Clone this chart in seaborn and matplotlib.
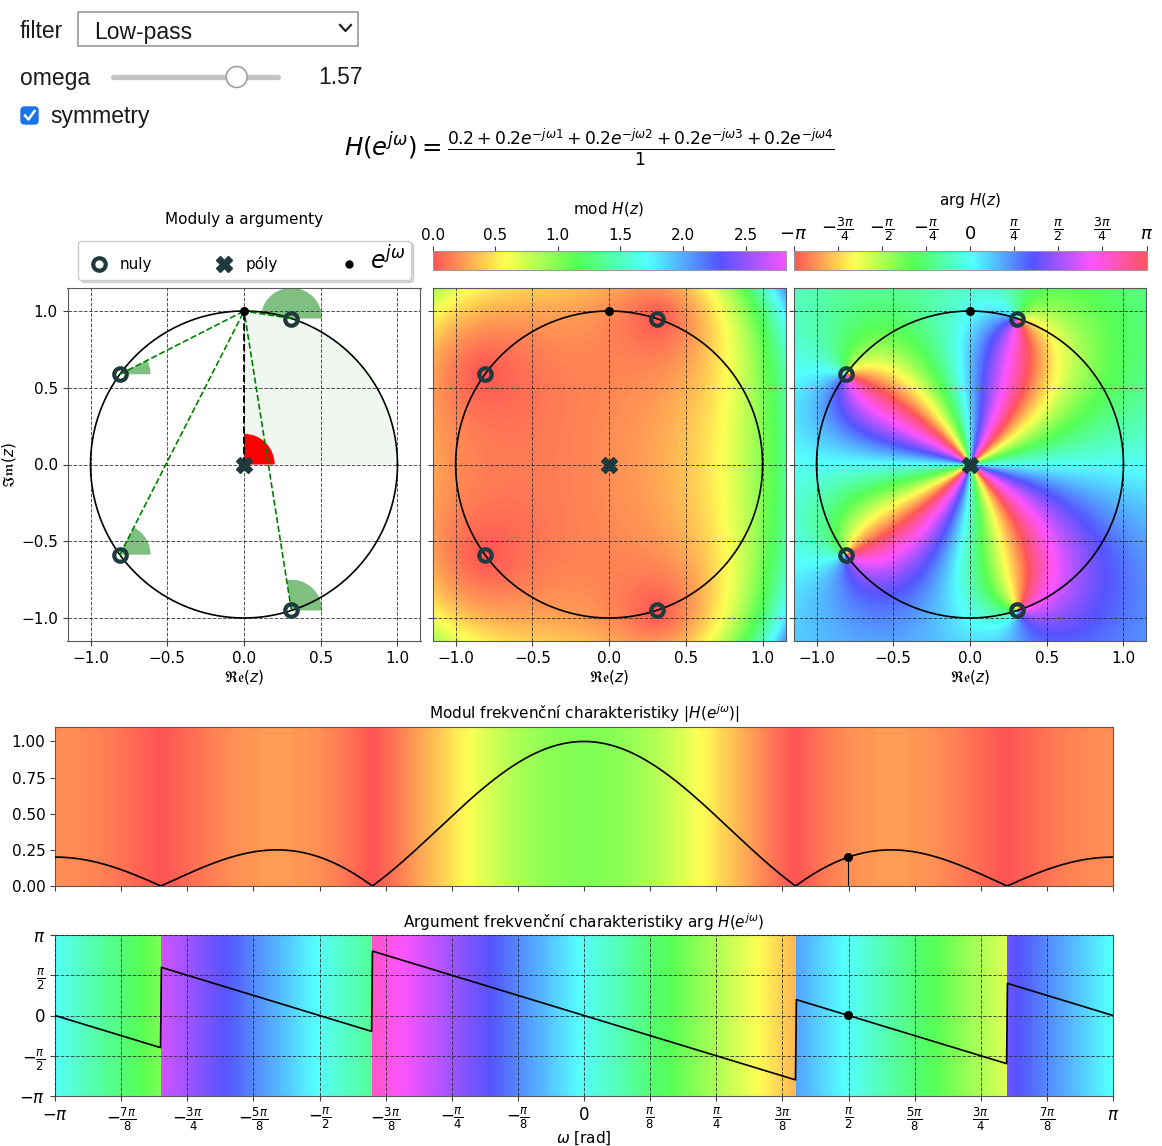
import numpy as np
import matplotlib
matplotlib.use("Agg")
import matplotlib.pyplot as plt
import seaborn as sns
from matplotlib.colors import ListedColormap, Normalize
from matplotlib.patches import Wedge, Rectangle, FancyBboxPatch, Ellipse
from matplotlib.lines import Line2D
from matplotlib.cm import ScalarMappable

# ---- filter definition and UI state ----
b = [0.2, 0.2, 0.2, 0.2, 0.2]        # numerator coefficients
a = [1.0]                            # denominator coefficients
omega = 1.57                         # selected frequency
filter_name = "Low-pass"
omega_min, omega_max = -np.pi, np.pi

# ---- tick definitions ----
mod_ticks = [0.0, 0.5, 1.0, 1.5, 2.0, 2.5]
mod_vmax = 2.82
arg_ticks_n = [-4, -3, -2, -1, 0, 1, 2, 3, 4]        # multiples of pi/4
arg_tick_labels = [r"$-\pi$", r"$-\frac{3\pi}{4}$", r"$-\frac{\pi}{2}$", r"$-\frac{\pi}{4}$",
                   r"$0$", r"$\frac{\pi}{4}$", r"$\frac{\pi}{2}$", r"$\frac{3\pi}{4}$", r"$\pi$"]
z_ticks = [-1.0, -0.5, 0.0, 0.5, 1.0]
w_ticks_n = list(range(-8, 9))                       # multiples of pi/8
w_tick_labels = [r"$-\pi$", r"$-\frac{7\pi}{8}$", r"$-\frac{3\pi}{4}$", r"$-\frac{5\pi}{8}$",
                 r"$-\frac{\pi}{2}$", r"$-\frac{3\pi}{8}$", r"$-\frac{\pi}{4}$", r"$-\frac{\pi}{8}$",
                 r"$0$", r"$\frac{\pi}{8}$", r"$\frac{\pi}{4}$", r"$\frac{3\pi}{8}$",
                 r"$\frac{\pi}{2}$", r"$\frac{5\pi}{8}$", r"$\frac{3\pi}{4}$", r"$\frac{7\pi}{8}$", r"$\pi$"]
mag_ticks = [0.0, 0.25, 0.5, 0.75, 1.0]
phase_ticks_n = [-2, -1, 0, 1, 2]                    # multiples of pi/2
phase_tick_labels = [r"$-\pi$", r"$-\frac{\pi}{2}$", r"$0$", r"$\frac{\pi}{2}$", r"$\pi$"]

plt.rcParams["font.size"] = 11
plt.rcParams["axes.edgecolor"] = "0.35"
plt.rcParams["xtick.color"] = "0.25"
plt.rcParams["ytick.color"] = "0.25"
plt.rcParams["xtick.labelcolor"] = "black"
plt.rcParams["ytick.labelcolor"] = "black"

W, H = 1162, 1146
fig = plt.figure(figsize=(W / 100, H / 100), dpi=100)


def fx(px):
    return px / W


def fy(py):
    return 1 - py / H


def pastel(lo, hi, alpha=0.67):
    c = plt.get_cmap("hsv")(np.linspace(lo, hi, 512))[:, :3]
    return ListedColormap(alpha * c + (1 - alpha))


cmap_mod = pastel(0.0, 0.833)
cmap_arg = pastel(0.0, 1.0)
norm_mod = Normalize(0, mod_vmax)
norm_arg = Normalize(-np.pi, np.pi)

dark = "#1f3a3d"

# ---- poles / zeros ----
zeros = np.roots(b)
poles = np.zeros(len(b) - len(a))
point = np.exp(1j * omega)

# ---- z-plane surfaces ----
lim = 1.15
g = np.linspace(-lim, lim, 460)
X, Y = np.meshgrid(g, g)
Z = X + 1j * Y
Hpoly = np.polyval(b, Z) / np.polyval(a, Z)
mod_z = np.abs(Hpoly)
arg_z = np.angle(Hpoly * Z ** (len(a) - len(b)))

# ---- frequency response ----
w = np.linspace(omega_min, omega_max, 1234)
ejw = np.exp(-1j * w)
Hw = np.polyval(b[::-1], ejw) / np.polyval(a[::-1], ejw)
mag = np.abs(Hw)
phase = np.angle(Hw)
H_pt = np.polyval(b[::-1], np.exp(-1j * omega)) / np.polyval(a[::-1], np.exp(-1j * omega))

# ---- axes layout ----
side_w = 353 / W
side_h = 353 / H
bottom_z = fy(641)
ax_l = fig.add_axes([fx(67.5), bottom_z, side_w, side_h])
ax_m = fig.add_axes([fx(432.6), bottom_z, side_w, side_h])
ax_r = fig.add_axes([fx(793.5), bottom_z, side_w, side_h])
cax_m = fig.add_axes([fx(432.6), fy(270), side_w, 19 / H])
cax_r = fig.add_axes([fx(793.5), fy(270), side_w, 19 / H])
ax_mag = fig.add_axes([fx(55), fy(886), 1058 / W, 159 / H])
ax_ph = fig.add_axes([fx(55), fy(1096), 1058 / W, 161 / H])

t = np.linspace(0, 2 * np.pi, 500)


def decorate_z(ax, ylabels):
    sns.lineplot(x=np.cos(t), y=np.sin(t), sort=False, estimator=None, color="black", lw=1.2,
                 ax=ax, zorder=3)
    ax.plot(zeros.real, zeros.imag, ls="none", marker="o", mfc="none", mec=dark, mew=3, ms=9, zorder=6)
    ax.plot(poles.real, poles.imag, ls="none", marker="X", color=dark, ms=12, mew=0.5, zorder=6)
    ax.plot([point.real], [point.imag], ls="none", marker="o", color="black", ms=5.5, zorder=7)
    ax.set_xlim(-lim, lim)
    ax.set_ylim(-lim, lim)
    ax.set_xticks(z_ticks)
    ax.set_yticks(z_ticks)
    ax.grid(True, ls="--", color="0.15", lw=0.7, alpha=0.8)
    ax.set_axisbelow(False)
    ax.set_xlabel(r"$\mathfrak{Re}(z)$", labelpad=2)
    if ylabels:
        ax.set_ylabel(r"$\mathfrak{Im}(z)$", labelpad=2)
    else:
        ax.tick_params(labelleft=False)


# left: geometry of moduli and arguments
ax_l.add_patch(Wedge((0, 0), 1.0, 0, np.degrees(omega), color="green", alpha=0.06, lw=0, zorder=1))
for zr in zeros:
    ang = np.degrees(np.angle(point - zr)) % 360
    ax_l.add_patch(Wedge((zr.real, zr.imag), 0.2, 0, ang, color="green", alpha=0.5, lw=0, zorder=2))
    ax_l.plot([zr.real, point.real], [zr.imag, point.imag], ls="--", color="green", lw=1.2, zorder=4)
for p in np.unique(poles):
    ang = np.degrees(np.angle(point - p)) % 360
    ax_l.add_patch(Wedge((p.real, p.imag), 0.2, 0, ang, color="red", lw=0, zorder=2))
    ax_l.plot([p.real, point.real], [p.imag, point.imag], ls="--", color="black", lw=1.4, zorder=4)
decorate_z(ax_l, True)

handles = [
    Line2D([], [], ls="none", marker="o", mfc="none", mec=dark, mew=3, ms=9),
    Line2D([], [], ls="none", marker="X", color=dark, ms=11),
    Line2D([], [], ls="none", marker="o", color="black", ms=5),
]
leg = ax_l.legend(handles, ["nuly", "póly", r"$e^{j\omega}$"], ncol=3, loc="center",
                  bbox_to_anchor=(0.03, 1.03, 0.943, 0.098), mode="expand", fontsize=11,
                  handletextpad=0.4, borderpad=0.35, borderaxespad=0, frameon=True, fancybox=True,
                  shadow={"color": "0.6", "alpha": 0.35}, edgecolor="0.8", framealpha=1)
leg.get_texts()[2].set_fontsize(17)
fig.text(fx(244), fy(220), "Moduly a argumenty", ha="center", va="center", fontsize=11)

# middle: modulus over the z-plane
ax_m.imshow(mod_z, extent=[-lim, lim, -lim, lim], origin="lower", cmap=cmap_mod, norm=norm_mod,
            interpolation="bilinear", zorder=0)
decorate_z(ax_m, False)

# right: argument over the z-plane
ax_r.imshow(arg_z, extent=[-lim, lim, -lim, lim], origin="lower", cmap=cmap_arg, norm=norm_arg,
            interpolation="bilinear", zorder=0)
decorate_z(ax_r, False)

# colorbars
cb_m = fig.colorbar(ScalarMappable(norm_mod, cmap_mod), cax=cax_m, orientation="horizontal")
cb_m.set_ticks(mod_ticks)
cb_r = fig.colorbar(ScalarMappable(norm_arg, cmap_arg), cax=cax_r, orientation="horizontal")
cb_r.set_ticks([n * np.pi / 4 for n in arg_ticks_n])
cb_r.set_ticklabels(arg_tick_labels)
for cax in (cax_m, cax_r):
    cax.xaxis.set_ticks_position("top")
    cax.xaxis.set_label_position("top")
    cax.tick_params(labelsize=11, pad=2)
cax_r.tick_params(labelsize=13)
cb_m.outline.set_edgecolor("0.6")
cb_r.outline.set_edgecolor("0.6")
fig.text(fx(608), fy(209), r"mod $H(z)$", ha="center", va="center", fontsize=11)
fig.text(fx(970), fy(201), r"arg $H(z)$", ha="center", va="center", fontsize=11)

# ---- magnitude response ----
mag_top = 1.1 * mag.max()
ax_mag.imshow(mag[np.newaxis, :], aspect="auto", extent=[omega_min, omega_max, 0, mag_top],
              cmap=cmap_mod, norm=norm_mod, interpolation="nearest", zorder=0)
sns.lineplot(x=w, y=mag, color="black", lw=1.2, ax=ax_mag, zorder=3)
ax_mag.plot([omega, omega], [0, abs(H_pt)], color="black", lw=0.8, zorder=3)
ax_mag.plot([omega], [abs(H_pt)], "o", color="black", ms=5.5, zorder=4)
ax_mag.set_xlim(omega_min, omega_max)
ax_mag.set_ylim(0, mag_top)
ax_mag.set_xticks([n * np.pi / 8 for n in w_ticks_n])
ax_mag.tick_params(labelbottom=False)
ax_mag.set_yticks(mag_ticks)
fig.text(fx(584), fy(714), r"Modul frekvenční charakteristiky $|H(e^{j\omega})|$",
         ha="center", va="center", fontsize=11)

# ---- phase response ----
ax_ph.imshow(phase[np.newaxis, :], aspect="auto", extent=[omega_min, omega_max, -np.pi, np.pi],
             cmap=cmap_arg, norm=norm_arg, interpolation="nearest", zorder=0)
sns.lineplot(x=w, y=phase, color="black", lw=1.2, ax=ax_ph, zorder=3)
ax_ph.plot([omega], [np.angle(H_pt)], "o", color="black", ms=5.5, zorder=4)
ax_ph.set_xlim(omega_min, omega_max)
ax_ph.set_ylim(-np.pi, np.pi)
ax_ph.set_xticks([n * np.pi / 8 for n in w_ticks_n])
ax_ph.set_xticklabels(w_tick_labels, fontsize=12)
ax_ph.set_yticks([n * np.pi / 2 for n in phase_ticks_n])
ax_ph.set_yticklabels(phase_tick_labels, fontsize=12)
ax_ph.grid(True, ls="--", color="0.15", lw=0.7, alpha=0.8)
ax_ph.set_axisbelow(False)
fig.text(fx(584), fy(922), r"Argument frekvenční charakteristiky arg $H(e^{j\omega})$",
         ha="center", va="center", fontsize=11)
fig.text(fx(584), fy(1138), r"$\omega$ [rad]", ha="center", va="center", fontsize=11)

# ---- formula ----
terms = " + ".join(
    [f"{b[0]:g}"] + [rf"{c:g}e^{{-j\omega {k}}}" for k, c in enumerate(b) if k > 0]
)
den = " + ".join([f"{a[0]:g}"] + [rf"{c:g}e^{{-j\omega {k}}}" for k, c in enumerate(a) if k > 0])
fig.text(fx(589), fy(147), rf"$H(e^{{j\omega}}) = \frac{{{terms}}}{{{den}}}$",
         ha="center", va="center", fontsize=17.6)

# ---- control widgets ----
ui_font = dict(family="Liberation Sans", fontsize=16.5, color="#1a1a1a", va="center")
fig.text(fx(20), fy(32), "filter", ha="left", **ui_font)
fig.add_artist(Rectangle((fx(78), fy(46)), fx(280), 34 / H, facecolor="white",
                         edgecolor="#9a9a9a", lw=1.2, transform=fig.transFigure))
fig.text(fx(94), fy(32), filter_name, ha="left", **ui_font)
fig.add_artist(Line2D([fx(340), fx(345.5), fx(351)], [fy(25), fy(31), fy(25)], color="#222222",
                      lw=1.6, transform=fig.transFigure))

fig.text(fx(20), fy(78), "omega", ha="left", **ui_font)
slider_left, slider_right = 113, 278
fig.add_artist(Line2D([fx(slider_left), fx(slider_right)], [fy(77), fy(77)], color="#c4c4c4",
                      lw=3.8, solid_capstyle="round", transform=fig.transFigure))
knob_x = slider_left + (omega - omega_min) / (omega_max - omega_min) * (slider_right - slider_left)
fig.add_artist(Ellipse((fx(knob_x), fy(77)), 21 / W, 21 / H, facecolor="white", edgecolor="#a0a0a0",
                       lw=1.2, transform=fig.transFigure, zorder=5))
fig.text(fx(318), fy(78), f"{omega:.2f}", ha="left", **ui_font)

fig.add_artist(FancyBboxPatch((fx(21), fy(124)), 17 / W, 17 / H,
                              boxstyle="round,pad=0,rounding_size=0.003", facecolor="#1a73e8",
                              edgecolor="#1a73e8", transform=fig.transFigure))
fig.add_artist(Line2D([fx(25), fx(28.5), fx(34.5)], [fy(115.5), fy(119.5), fy(111)], color="white",
                      lw=1.8, transform=fig.transFigure, zorder=6))
fig.text(fx(50), fy(116), "symmetry", ha="left", **ui_font)

fig.savefig("out.png", dpi=100)
